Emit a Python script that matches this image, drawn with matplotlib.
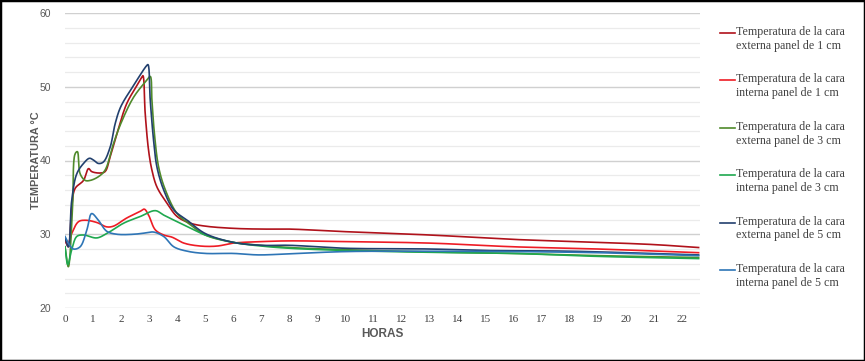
import matplotlib
matplotlib.use("Agg")
import numpy as np
import matplotlib.pyplot as plt
from matplotlib.lines import Line2D
from matplotlib.patches import Rectangle

# ---- data ----
hours_ext1 = [0, 0.12, 0.24, 0.36, 0.66, 0.84, 0.95, 1.25, 1.43, 1.61, 1.85, 2.2, 2.57, 2.74, 2.78,
              2.86, 2.98, 3.1, 3.28, 3.64, 4.0, 4.47, 5.0, 6.0, 7.0, 8, 10, 13, 16, 19, 21, 22.6]
temp_ext1 = [29.2, 28.3, 33.7, 36.2, 37.3, 38.9, 38.5, 38.3, 38.5, 40.5, 43.6, 47.7, 50.2, 51.3, 51.5,
             46.4, 41.4, 38.7, 36.4, 34.2, 32.4, 31.5, 31.1, 30.8, 30.7, 30.7, 30.35, 29.9, 29.3, 28.9, 28.6, 28.2]

hours_int1 = [0, 0.1, 0.24, 0.48, 0.72, 1.13, 1.49, 1.73, 2.2, 2.68, 2.83, 2.98, 3.22, 3.52, 3.82,
              4.24, 4.83, 5.43, 6.0, 7.0, 8, 10, 13, 16, 19, 22.6]
temp_int1 = [29.2, 28.6, 30.1, 31.7, 31.9, 31.6, 31.0, 31.1, 32.2, 33.1, 33.4, 32.6, 30.6, 29.9, 29.6,
             28.8, 28.4, 28.4, 28.8, 29.0, 29.1, 29.0, 28.8, 28.3, 28.0, 27.5]

hours_ext3 = [0, 0.12, 0.27, 0.36, 0.44, 0.54, 0.72, 0.9, 1.19, 1.43, 1.73, 1.99, 2.45, 2.92, 3.04,
              3.1, 3.19, 3.34, 3.58, 4.0, 4.47, 5.0, 6.0, 7.0, 8, 10, 13, 16, 19, 22.6]
temp_ext3 = [28.3, 25.6, 33.7, 40.9, 41.2, 38.2, 37.3, 37.3, 37.8, 38.7, 42.3, 45.0, 48.6, 50.9, 51.4,
             48.2, 43.6, 39.1, 36.0, 32.8, 31.3, 29.9, 28.9, 28.5, 28.2, 27.9, 27.6, 27.4, 27.1, 26.85]

hours_int3 = [0, 0.1, 0.24, 0.42, 0.66, 1.13, 1.49, 2.09, 2.68, 3.22, 3.52, 4.0, 4.6, 5.0, 6.0, 7.0,
              8, 10, 13, 16, 19, 22.6]
temp_int3 = [28.3, 25.9, 27.9, 29.7, 29.9, 29.5, 30.1, 31.5, 32.4, 33.2, 32.6, 31.7, 30.6, 29.9, 28.9,
             28.4, 28.1, 27.8, 27.55, 27.4, 27.0, 26.7]

hours_ext5 = [0, 0.12, 0.24, 0.42, 0.66, 0.87, 1.0, 1.19, 1.37, 1.61, 1.79, 1.99, 2.45, 2.92, 2.96,
              3.04, 3.16, 3.28, 3.52, 3.88, 4.36, 5.0, 6.0, 7.0, 8, 10, 13, 15, 18, 22.6]
temp_ext5 = [29.5, 28.3, 34.6, 38.2, 39.6, 40.3, 40.1, 39.6, 39.8, 41.8, 45.0, 47.3, 50.2, 52.9, 53.0,
             48.2, 42.7, 39.1, 36.0, 33.3, 31.9, 30.1, 28.9, 28.5, 28.5, 28.1, 28.0, 27.8, 27.7, 27.2]

hours_int5 = [0, 0.12, 0.3, 0.54, 0.78, 0.95, 1.19, 1.49, 1.85, 2.45, 2.92, 3.16, 3.52, 3.88, 4.36,
              5.0, 6.0, 6.9, 8, 10, 13, 16, 19, 22.6]
temp_int5 = [29.7, 28.8, 28.0, 28.3, 30.6, 32.8, 31.9, 30.4, 30.0, 30.0, 30.2, 30.3, 29.7, 28.3, 27.7,
             27.4, 27.4, 27.2, 27.35, 27.65, 27.7, 27.65, 27.5, 27.1]

series_labels = [
    "Temperatura de la cara\nexterna panel de 1 cm",
    "Temperatura de la cara\ninterna panel de 1 cm",
    "Temperatura de la cara\nexterna panel de 3 cm",
    "Temperatura de la cara\ninterna panel de 3 cm",
    "Temperatura de la cara\nexterna panel de 5 cm",
    "Temperatura de la cara\ninterna panel de 5 cm",
]
series_x = [hours_ext1, hours_int1, hours_ext3, hours_int3, hours_ext5, hours_int5]
series_y = [temp_ext1, temp_int1, temp_ext3, temp_int3, temp_ext5, temp_int5]
colors = ["#B0121B", "#EE1C25", "#4F8A2B", "#1FA84F", "#22406E", "#2E75B6"]

x_ticks = list(range(0, 23))
y_ticks = [20, 30, 40, 50, 60]


def smooth_line(xs, ys, sx=28.0, sy=7.4, n=16):
    """Centripetal Catmull-Rom rendering of a polyline (like a spreadsheet 'smoothed line')."""
    P = np.column_stack([np.asarray(xs, float) * sx, np.asarray(ys, float) * sy])
    P = np.vstack([2 * P[0] - P[1], P, 2 * P[-1] - P[-2]])
    out = []
    for i in range(1, len(P) - 2):
        p0, p1, p2, p3 = P[i - 1], P[i], P[i + 1], P[i + 2]
        t0 = 0.0
        t1 = t0 + max(np.linalg.norm(p1 - p0), 1e-6) ** 0.5
        t2 = t1 + max(np.linalg.norm(p2 - p1), 1e-6) ** 0.5
        t3 = t2 + max(np.linalg.norm(p3 - p2), 1e-6) ** 0.5
        t = np.linspace(t1, t2, n)[:, None]
        A1 = (t1 - t) / (t1 - t0) * p0 + (t - t0) / (t1 - t0) * p1
        A2 = (t2 - t) / (t2 - t1) * p1 + (t - t1) / (t2 - t1) * p2
        A3 = (t3 - t) / (t3 - t2) * p2 + (t - t2) / (t3 - t2) * p3
        B1 = (t2 - t) / (t2 - t0) * A1 + (t - t0) / (t2 - t0) * A2
        B2 = (t3 - t) / (t3 - t1) * A2 + (t - t1) / (t3 - t1) * A3
        C = (t2 - t) / (t2 - t1) * B1 + (t - t1) / (t2 - t1) * B2
        out.append(C if i == 1 else C[1:])
    C = np.vstack(out)
    return C[:, 0] / sx, C[:, 1] / sy


# ---- figure ----
fig = plt.figure(figsize=(8.65, 3.61), dpi=100)
ax = fig.add_axes([65/865, 53/361, (700-65)/865, (308.3-13.3)/361])

for xs, ys, c in zip(series_x, series_y, colors):
    sx_, sy_ = smooth_line(xs, ys)
    ax.plot(sx_, sy_, color=c, lw=1.2, solid_joinstyle="round")

ax.set_xlim(0, 22.65)
ax.set_ylim(20, 60)
ax.set_yticks(y_ticks)
ax.set_yticks(range(20, 61, 2), minor=True)
ax.set_xticks(x_ticks)
ax.grid(True, which="major", axis="y", color="#D0D0D0", lw=1.0)
ax.grid(True, which="minor", axis="y", color="#EBEBEB", lw=0.9)
ax.set_axisbelow(True)
for s in ax.spines.values():
    s.set_visible(False)
ax.tick_params(which="both", length=0)
ax.tick_params(axis="y", labelsize=7.5, labelcolor="#595959", pad=10)
ax.tick_params(axis="x", labelsize=8, labelcolor="#404040", pad=5)
for lbl in ax.get_xticklabels():
    lbl.set_family("Liberation Serif")
for lbl in ax.get_yticklabels():
    lbl.set_family("Liberation Sans")

ax.set_xlabel("HORAS", fontsize=8.5, fontweight="bold", color="#595959",
              family="Liberation Sans")
ax.xaxis.set_label_coords((382-65)/635, -0.068)
fig.text(36/865, 1 - 160/361, "TEMPERATURA °C", rotation=90, ha="center", va="center",
         fontsize=7.8, fontweight="bold", color="#595959", family="Liberation Sans")

# ---- legend (manual) ----
leg_y0 = 33
leg_step = 47.4
for i, (lab, c) in enumerate(zip(series_labels, colors)):
    yy = leg_y0 + i * leg_step
    fig.add_artist(Line2D([720/865, 735/865], [1 - yy/361, 1 - yy/361], color=c, lw=1.2,
                          transform=fig.transFigure))
    fig.text(736/865, 1 - (yy - 7)/361, lab, ha="left", va="top", fontsize=8.6,
             family="Liberation Serif", color="#404040", linespacing=1.2)

fig.patches.append(Rectangle((0, 0), 1, 1, transform=fig.transFigure, fill=False,
                             edgecolor="black", lw=2.5))

fig.savefig("out.png", dpi=100)
